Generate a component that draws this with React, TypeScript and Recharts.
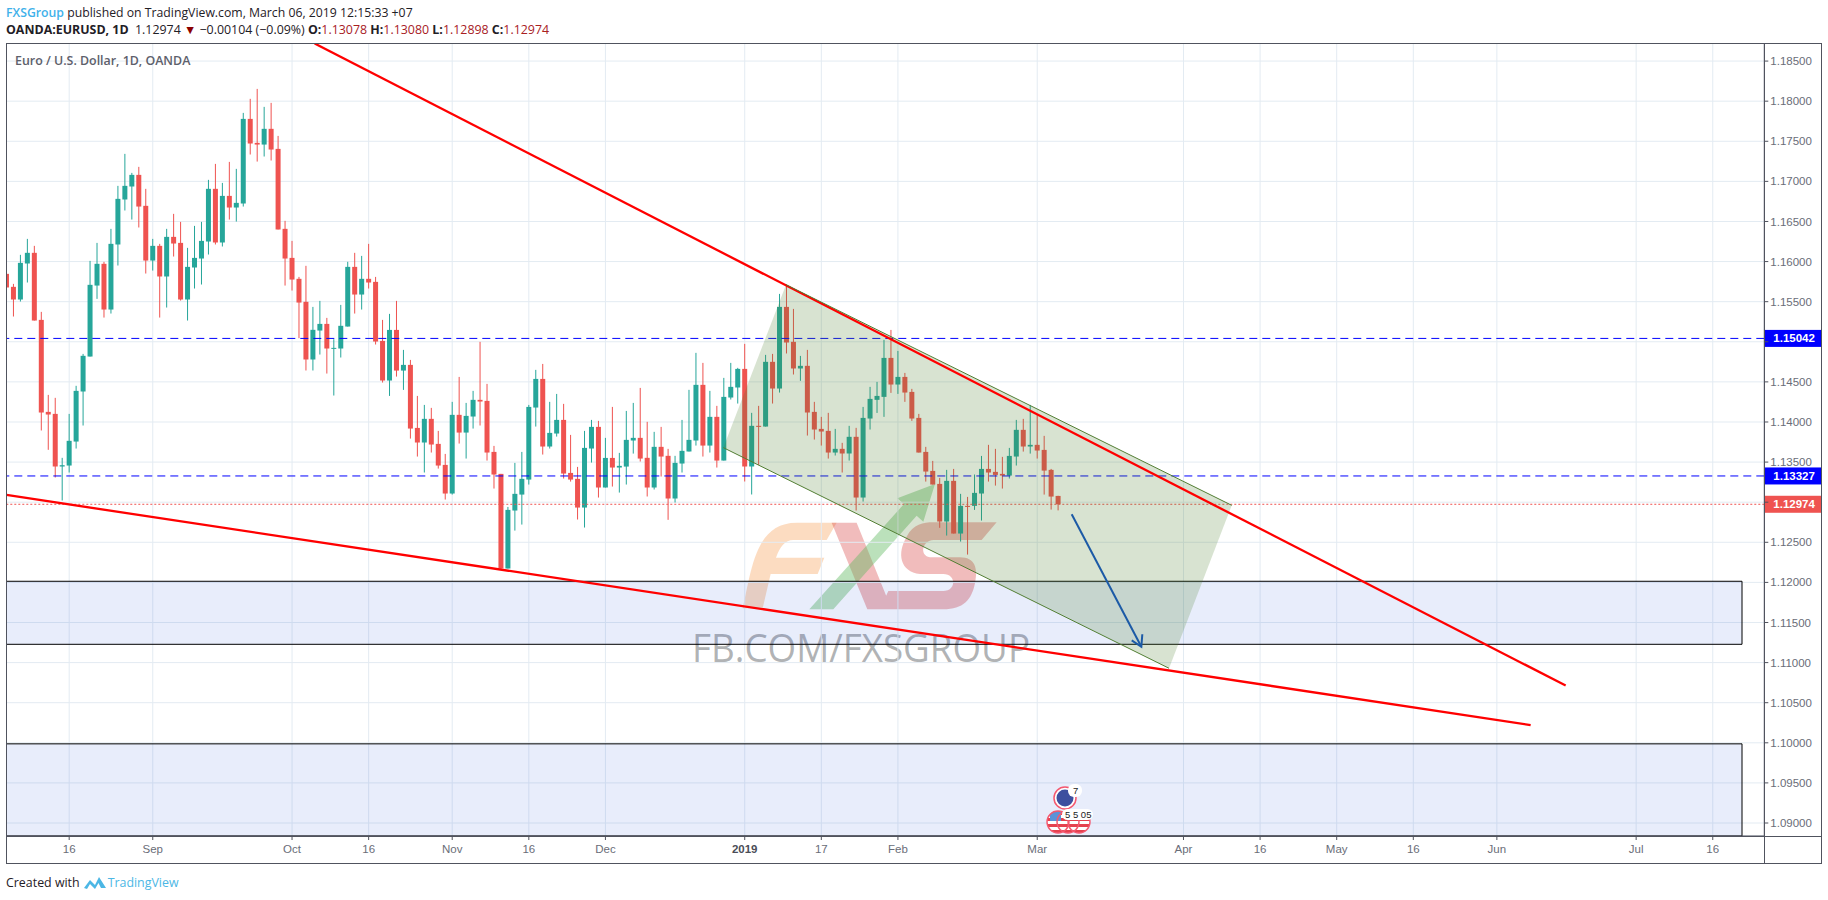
import React from "react";
import { ComposedChart, Bar, Line, Area, XAxis, YAxis, CartesianGrid, ReferenceLine, ReferenceArea } from "recharts";

const opens = [1.15847,1.15685,1.15527,1.15976,1.16109,1.15273,1.14126,1.14101,1.13445,1.13457,1.13756,1.1438,1.14816,1.15701,1.15972,1.15402,1.16213,1.16774,1.16936,1.17081,1.16695,1.16013,1.16196,1.15814,1.16308,1.16233,1.15527,1.15926,1.16038,1.1625,1.16907,1.16238,1.16819,1.16674,1.16724,1.17779,1.1748,1.17459,1.17655,1.17405,1.16408,1.16046,1.15785,1.15498,1.14779,1.1514,1.15223,1.14912,1.14916,1.1519,1.15934,1.15589,1.15785,1.15747,1.15011,1.14517,1.15148,1.14641,1.14712,1.13926,1.13744,1.14039,1.13727,1.13465,1.13108,1.14089,1.13868,1.14068,1.14276,1.14263,1.13627,1.13353,1.12173,1.12896,1.13095,1.13282,1.1418,1.14537,1.13694,1.13856,1.14026,1.13365,1.13291,1.12933,1.13669,1.13939,1.13183,1.13552,1.13432,1.13444,1.13769,1.13802,1.13553,1.13183,1.1369,1.13578,1.13046,1.13482,1.13632,1.13769,1.14463,1.13706,1.14064,1.13519,1.14305,1.1443,1.14662,1.13445,1.13952,1.13943,1.1475,1.14417,1.15435,1.14999,1.14667,1.147,1.14126,1.13914,1.13889,1.13619,1.13665,1.13607,1.13815,1.13058,1.14043,1.14276,1.14313,1.14799,1.14467,1.14562,1.14375,1.14051,1.13627,1.1339,1.13228,1.12759,1.13266,1.12609,1.12954,1.12954,1.13108,1.13415,1.13378,1.13353,1.13332,1.13569,1.13902,1.13694,1.13715,1.13652,1.13403,1.13078];
const highs = [1.15847,1.15722,1.16084,1.16283,1.16196,1.15373,1.14338,1.14301,1.13553,1.14101,1.14451,1.14849,1.16009,1.16233,1.15997,1.16408,1.16944,1.17343,1.17106,1.17181,1.16907,1.16283,1.16221,1.16408,1.16595,1.16495,1.16171,1.16445,1.16495,1.17019,1.17218,1.16981,1.17243,1.17156,1.17854,1.18029,1.18153,1.17929,1.17979,1.17567,1.16508,1.16258,1.15809,1.15947,1.15435,1.1551,1.15298,1.15032,1.1546,1.15997,1.16109,1.16071,1.16221,1.15809,1.15273,1.15348,1.1551,1.14899,1.14774,1.14325,1.14213,1.14176,1.13889,1.13602,1.14251,1.14562,1.14238,1.14388,1.14999,1.14475,1.13702,1.13353,1.12941,1.1349,1.13627,1.14213,1.1465,1.14724,1.14251,1.1435,1.14226,1.13839,1.1344,1.13889,1.14026,1.14014,1.13802,1.14188,1.13615,1.14138,1.14238,1.14425,1.14002,1.13877,1.13939,1.13665,1.13578,1.14026,1.14401,1.14862,1.14737,1.14388,1.14201,1.1455,1.14737,1.14675,1.14974,1.14114,1.14201,1.14837,1.14849,1.15597,1.1571,1.1541,1.14824,1.14899,1.14251,1.14064,1.14114,1.13914,1.1374,1.13952,1.13927,1.14188,1.14438,1.145,1.15024,1.15148,1.14886,1.14612,1.14413,1.14101,1.1369,1.13515,1.13303,1.13403,1.13415,1.13104,1.13066,1.13345,1.13577,1.13715,1.13665,1.13565,1.13677,1.14026,1.14039,1.14213,1.14089,1.13827,1.13415,1.1308];
const lows = [1.15677,1.15315,1.15502,1.15739,1.15265,1.13894,1.13653,1.13308,1.13021,1.1337,1.13669,1.13956,1.14816,1.15535,1.15302,1.15352,1.15951,1.16637,1.16524,1.16425,1.15851,1.15888,1.15302,1.15427,1.16063,1.15514,1.15265,1.15664,1.15714,1.16088,1.16213,1.16188,1.16524,1.16499,1.16686,1.17335,1.17247,1.1731,1.1726,1.164,1.15701,1.15639,1.15045,1.14642,1.14642,1.14841,1.14604,1.1433,1.14804,1.1519,1.15352,1.15402,1.15664,1.14966,1.14492,1.14325,1.14566,1.144,1.13793,1.13569,1.1337,1.13619,1.13419,1.13033,1.13095,1.13731,1.13544,1.13918,1.13956,1.13519,1.1317,1.12164,1.12173,1.12646,1.12721,1.1322,1.13943,1.13594,1.13669,1.13818,1.13295,1.13257,1.12784,1.12684,1.13494,1.13058,1.13183,1.13195,1.1312,1.1322,1.13606,1.13507,1.13071,1.13158,1.1332,1.1278,1.12996,1.1337,1.13632,1.13706,1.13569,1.13619,1.13432,1.13519,1.1428,1.1423,1.13258,1.13096,1.13465,1.13943,1.1423,1.14367,1.14854,1.14592,1.14513,1.13831,1.13781,1.13706,1.13544,1.13582,1.1337,1.13519,1.12896,1.13008,1.13906,1.14113,1.14064,1.14363,1.1435,1.14251,1.14014,1.13619,1.13257,1.1322,1.1268,1.12584,1.12609,1.12509,1.12347,1.12904,1.12771,1.13257,1.13207,1.1317,1.13295,1.13457,1.13631,1.13606,1.13544,1.13095,1.12908,1.12898];
const closes = [1.15677,1.15527,1.15984,1.16109,1.15265,1.14118,1.14093,1.13445,1.13461,1.13765,1.14388,1.14825,1.1571,1.15972,1.15402,1.16221,1.16782,1.16944,1.17081,1.16686,1.16013,1.16196,1.15814,1.16308,1.16225,1.15527,1.15934,1.16046,1.16258,1.16907,1.16238,1.16819,1.16674,1.16732,1.17779,1.17472,1.17459,1.17655,1.17397,1.164,1.16038,1.15776,1.15489,1.14779,1.15149,1.15223,1.14916,1.14924,1.15199,1.15934,1.15589,1.15785,1.15739,1.15003,1.14517,1.15148,1.14641,1.14712,1.13918,1.13744,1.14039,1.13719,1.13457,1.13108,1.14089,1.13868,1.14076,1.14276,1.14255,1.13619,1.13345,1.12173,1.12904,1.13104,1.13291,1.14188,1.14537,1.13694,1.13864,1.14026,1.13357,1.13282,1.12933,1.13677,1.13939,1.13183,1.13552,1.13432,1.13453,1.13777,1.13802,1.13544,1.13183,1.1369,1.13569,1.13046,1.1349,1.1364,1.13777,1.14463,1.13706,1.14064,1.13519,1.14313,1.14438,1.14662,1.13445,1.13952,1.13939,1.1475,1.14417,1.15435,1.14991,1.14667,1.147,1.14118,1.13906,1.13881,1.13619,1.13665,1.13607,1.13815,1.13058,1.14051,1.14288,1.14325,1.14799,1.14467,1.14562,1.14367,1.14043,1.13619,1.13382,1.1322,1.12759,1.13266,1.12609,1.12954,1.12941,1.13116,1.13415,1.1337,1.1334,1.13332,1.13577,1.13902,1.13694,1.13715,1.13644,1.13394,1.1307,1.12974];

const priceTicks = [1.09,1.095,1.1,1.105,1.11,1.115,1.12,1.125,1.13,1.135,1.14,1.145,1.15,1.155,1.16,1.165,1.17,1.175,1.18,1.185];
const hiddenPriceLabels = [1.13, 1.15];
const timeTicks = [9,21,41,52,64,75,86,106,117,128,148,169,180,191,202,214,234,245];
const timeLabels = ["16","Sep","Oct","16","Nov","16","Dec","2019","17","Feb","Mar","Apr","16","May","16","Jun","Jul","16"];

const resistance = [{ i: 44.25, y: 1.18719 }, { i: 223.88, y: 1.10714 }];
const support = [{ i: 0, y: 1.1309 }, { i: 218.85, y: 1.10221 }];
const channelFill = [
  { i: 102.93, band: [1.1368, 1.1368] },
  { i: 111.93, band: [1.13293, 1.15712] },
  { i: 166.93, band: [1.10929, 1.13348] },
  { i: 175.93, band: [1.12961, 1.12961] },
];
const channelTop = [{ i: 111.93, y: 1.15712 }, { i: 175.93, y: 1.12961 }];
const channelBottom = [{ i: 102.93, y: 1.1368 }, { i: 166.93, y: 1.10929 }];
const arrowShaft = [{ i: 152.95, y: 1.12849 }, { i: 162.95, y: 1.11198 }];
const arrowHead = [{ i: 161.57, y: 1.11278 }, { i: 162.95, y: 1.11198 }, { i: 163.09, y: 1.11353 }];

const levelA = 1.15042;
const levelB = 1.13327;
const lastPrice = 1.12974;
const zoneRight = 249.2;
const upperZone = [1.11228, 1.12014];
const lowerZone = [1.08838, 1.09987];

const rows = opens.map((open, i) => ({
  i,
  open,
  close: closes[i],
  range: [lows[i], highs[i]],
  high: highs[i],
  low: lows[i],
}));

const UP = "#26a69a";
const DOWN = "#ef5350";
const FRAME = "#50535e";
const SANS = "'Open Sans', sans-serif";

function Candle(props: any) {
  const { x, y, width, height, payload } = props;
  if (x == null || !height) return null;
  const { open, close, high, low } = payload;
  const k = height / (high - low);
  const top = y + (high - Math.max(open, close)) * k;
  const bottom = y + (high - Math.min(open, close)) * k;
  const fill = close >= open ? UP : DOWN;
  const cx = x + width / 2;
  return (
    <g>
      <rect x={cx - 0.5} y={y} width={1} height={height} fill={fill} />
      <rect x={cx - 2.5} y={top} width={5} height={Math.max(bottom - top, 1)} fill={fill} />
    </g>
  );
}

function TimeTick(props: any) {
  const { x, y, payload } = props;
  const label = timeLabels[timeTicks.indexOf(payload.value)];
  return (
    <text x={x} y={y + 11} textAnchor="middle" fontFamily="'Liberation Sans', Arial" fontSize={11.5}
      fontWeight={label === "2019" ? 700 : 400} fill={label === "2019" ? "#4a4d57" : "#6a6d78"}>
      {label}
    </text>
  );
}

function priceTag(value: number, fill: string) {
  return (props: any) => {
    const vb = props.viewBox;
    const px = vb.x + vb.width;
    return (
      <g>
        <rect x={px} y={vb.y - 8.5} width={57} height={17} fill={fill} />
        <text x={px + 9} y={vb.y + 4} fontFamily="'Liberation Sans', Arial" fontSize={11.5} fontWeight={700} fill="#fff">
          {value.toFixed(5)}
        </text>
      </g>
    );
  };
}

function Watermark() {
  return (
    <svg width={1828} height={900} style={{ position: "absolute", left: 0, top: 0 }}>
      <g transform="translate(680 480) scale(0.3333)">
        <path d="M188 385 C215 270 225 128 350 128 L470 128 L440 180 L340 180 C315 180 300 200 288 233 L433 233 L413 282 L272 282 L248 385 Z" fill="#f58c32" fillOpacity={0.3} />
        <path d="M455 128 L530 128 L635 388 L562 388 Z M950 127 L905 180 L760 180 C730 180 715 225 750 232 L840 232 C885 232 895 265 885 310 C875 360 850 388 790 388 L600 388 L625 333 L790 333 C830 333 830 282 790 282 L720 282 C660 275 650 220 680 170 C700 132 730 127 760 127 Z" fill="#d63c3c" fillOpacity={0.34} />
        <path d="M388 388 L672 72 L652 55 L765 12 L730 125 L710 107 L460 388 Z" fill="#5cb85c" fillOpacity={0.42} />
      </g>
      <text x={692} y={661.5} fontFamily="'Open Sans', sans-serif" fontSize={38.5} fill="#7c7f84" fillOpacity={0.6}
        textLength={338} lengthAdjust="spacingAndGlyphs">
        FB.COM/FXSGROUP
      </text>
    </svg>
  );
}

function Overlay() {
  const stripes = [0, 1, 2, 3];
  return (
    <svg width={1828} height={900} style={{ position: "absolute", left: 0, top: 0, pointerEvents: "none" }}>
      <defs>
        <clipPath id="usClip">
          <circle cx={1058} cy={822} r={11} />
          <circle cx={1068} cy={822} r={11} />
          <circle cx={1079} cy={822} r={11} />
        </clipPath>
      </defs>
      <rect x={6.5} y={43.5} width={1815} height={820} fill="none" stroke={FRAME} />
      <line x1={1764.5} y1={43} x2={1764.5} y2={864} stroke={FRAME} />
      <line x1={6} y1={836.5} x2={1822} y2={836.5} stroke={FRAME} />
      <circle cx={1065} cy={798} r={11} fill="#fff" stroke="#f4586f" strokeWidth={1.5} />
      <circle cx={1065} cy={798} r={8.5} fill="#3c4f9f" />
      <rect x={1068} y={784} width={14} height={13} rx={6} fill="#fff" />
      <text x={1073} y={794} fontFamily="'Liberation Sans', Arial" fontSize={9.5} fill="#222">7</text>
      <g clipPath="url(#usClip)">
        <rect x={1040} y={805} width={60} height={30} fill="#fff" />
        {stripes.map((s) => (
          <rect key={s} x={1040} y={812 + s * 6} width={60} height={3} fill="#e4424f" />
        ))}
        <rect x={1050} y={811} width={11} height={10} fill="#5b93d8" />
      </g>
      <circle cx={1058} cy={822} r={11} fill="none" stroke="#f4586f" strokeWidth={1.4} />
      <circle cx={1068} cy={822} r={11} fill="none" stroke="#f4586f" strokeWidth={1.4} />
      <circle cx={1079} cy={822} r={11} fill="none" stroke="#f4586f" strokeWidth={1.4} />
      <rect x={1062} y={809} width={31} height={11} rx={5.5} fill="#fff" />
      <text x={1065} y={818} fontFamily="'Liberation Sans', Arial" fontSize={9.5} fill="#222">5 5 05</text>
    </svg>
  );
}

const header: React.CSSProperties = { position: "absolute", left: 6, whiteSpace: "nowrap", fontFamily: SANS, color: "#1f2026", lineHeight: "16px" };
const redValue: React.CSSProperties = { color: "#a8201f" };

export default function App() {
  return (
    <div style={{ position: "absolute", left: 0, top: 0, width: 1828, height: 900, background: "#fff", overflow: "hidden" }}>
      <Watermark />
      <div style={{ ...header, top: 5, fontSize: 12.25 }}>
        <span style={{ color: "#3fb1ea", fontWeight: 600 }}>FXSGroup</span> published on TradingView.com, March 06, 2019 12:15:33 +07
      </div>
      <div style={{ ...header, top: 22, fontSize: 12.4 }}>
        <b>OANDA:EURUSD, 1D</b>&nbsp; 1.12974 <span style={{ color: "#8b0000" }}>▼</span> −0.00104 (−0.09%) <b>O:</b><span style={redValue}>1.13078</span> <b>H:</b><span style={redValue}>1.13080</span> <b>L:</b><span style={redValue}>1.12898</span> <b>C:</b><span style={redValue}>1.12974</span>
      </div>
      <div style={{ position: "absolute", left: 0, top: 0 }}>
        <ComposedChart width={1828} height={900} data={rows} margin={{ left: 6.5, top: 43.5, right: 6.7, bottom: 37 }}>
          <CartesianGrid stroke="#e3ebf2" strokeWidth={1} />
          <XAxis dataKey="i" type="number" domain={[0, 252.4]} ticks={timeTicks} interval={0} allowDataOverflow
            height={27} tick={<TimeTick />} tickSize={4} tickLine={{ stroke: FRAME }} axisLine={{ stroke: FRAME }} />
          <YAxis orientation="right" type="number" domain={[1.08838, 1.18719]} ticks={priceTicks} interval={0} allowDataOverflow
            width={57} tickSize={4} tickFormatter={(v: number) => (hiddenPriceLabels.includes(v) ? "" : v.toFixed(5))} tickLine={{ stroke: FRAME }} axisLine={{ stroke: FRAME }}
            tick={{ fontFamily: "'Liberation Sans', Arial", fontSize: 11.5, fill: "#6a6d78" }} />
          <ReferenceArea x1={0} x2={zoneRight} y1={upperZone[0]} y2={upperZone[1]} fill="#1a53d8" fillOpacity={0.1} stroke="#000" strokeWidth={1} ifOverflow="visible" />
          <ReferenceArea x1={0} x2={zoneRight} y1={lowerZone[0]} y2={lowerZone[1]} fill="#1a53d8" fillOpacity={0.1} stroke="#000" strokeWidth={1} ifOverflow="visible" />
          <Bar dataKey="range" barSize={5} shape={<Candle />} isAnimationActive={false} />
          <ReferenceLine y={levelA} stroke="#0000ff" strokeDasharray="8 5" ifOverflow="visible" label={priceTag(levelA, "#0000ff")} />
          <ReferenceLine y={levelB} stroke="#0000ff" strokeDasharray="8 5" ifOverflow="visible" label={priceTag(levelB, "#0000ff")} />
          <ReferenceLine y={lastPrice} stroke={DOWN} strokeDasharray="2 2" ifOverflow="visible" label={priceTag(lastPrice, DOWN)} />
          <Area data={channelFill} dataKey="band" type="linear" stroke="none" fill="#4f7f2f" fillOpacity={0.22} dot={false} activeDot={false} isAnimationActive={false} zIndex={500} />
          <Line data={resistance} dataKey="y" type="linear" stroke="#ff0000" strokeWidth={2.3} dot={false} activeDot={false} isAnimationActive={false} zIndex={600} />
          <Line data={support} dataKey="y" type="linear" stroke="#ff0000" strokeWidth={2.3} dot={false} activeDot={false} isAnimationActive={false} zIndex={600} />
          <Line data={channelTop} dataKey="y" type="linear" stroke="#527e33" strokeWidth={1} dot={false} activeDot={false} isAnimationActive={false} zIndex={600} />
          <Line data={channelBottom} dataKey="y" type="linear" stroke="#527e33" strokeWidth={1} dot={false} activeDot={false} isAnimationActive={false} zIndex={600} />
          <Line data={arrowShaft} dataKey="y" type="linear" stroke="#1c5aa6" strokeWidth={2} dot={false} activeDot={false} isAnimationActive={false} zIndex={600} />
          <Line data={arrowHead} dataKey="y" type="linear" stroke="#1c5aa6" strokeWidth={2} dot={false} activeDot={false} isAnimationActive={false} zIndex={600} />
        </ComposedChart>
      </div>
      <Overlay />
      <div style={{ position: "absolute", left: 15, top: 52, fontFamily: SANS, fontSize: 12.4, fontWeight: 600, color: "#5d606b", whiteSpace: "nowrap", lineHeight: "18px" }}>
        Euro / U.S. Dollar, 1D, OANDA
      </div>
      <div style={{ position: "absolute", left: 6, top: 875, fontFamily: SANS, fontSize: 12.4, color: "#1f2026", whiteSpace: "nowrap", lineHeight: "16px", display: "flex", alignItems: "center" }}>
        Created with
        <svg width={24} height={16} style={{ margin: "0 1px 0 3px" }}>
          <path d="M1 13 L7 5 L12 10 L16 2 L23 13 L18 13 L15.5 8 L12 14 L7 9 L4 14 Z" fill="#4cb7e5" />
        </svg>
        <span style={{ color: "#4cb7e5" }}>TradingView</span>
      </div>
    </div>
  );
}
